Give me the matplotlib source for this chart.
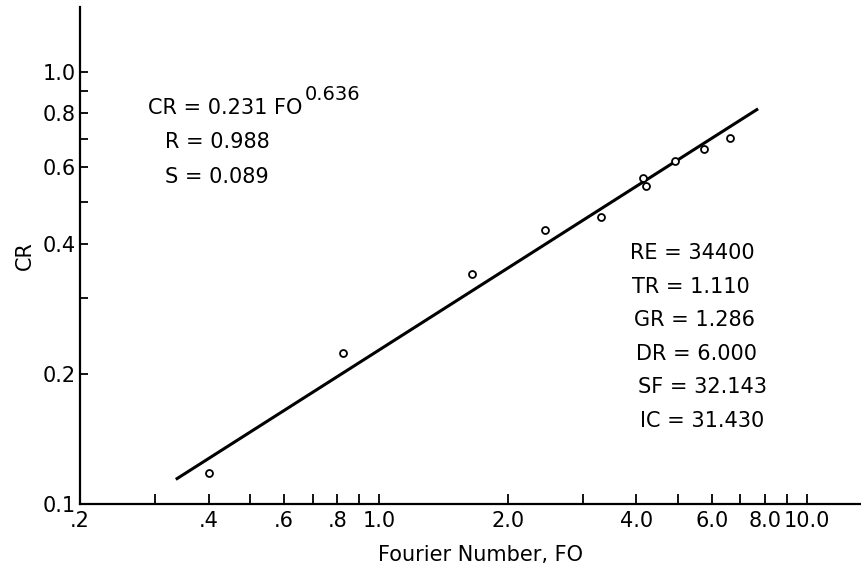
import matplotlib.pyplot as plt
import numpy as np

fo = [0.40, 0.826, 1.65, 2.44, 3.31, 4.14, 4.20, 4.93, 5.76, 6.62]
cr = [0.118, 0.224, 0.341, 0.431, 0.461, 0.566, 0.545, 0.620, 0.662, 0.702]

# ends of the fitted line
fit_fo = [0.335, 7.7]
fit_cr = [0.114, 0.82]

x_ticks = [0.2, 0.3, 0.4, 0.5, 0.6, 0.7, 0.8, 0.9, 1.0, 2.0, 3.0, 4.0, 5.0, 6.0, 7.0, 8.0, 9.0, 10.0]
x_labels = ['.2', '', '.4', '', '.6', '', '.8', '', '1.0', '2.0', '', '4.0', '', '6.0', '', '8.0', '', '10.0']
y_ticks = [0.1, 0.2, 0.3, 0.4, 0.5, 0.6, 0.7, 0.8, 0.9, 1.0]
y_labels = ['0.1', '0.2', '', '0.4', '', '0.6', '', '0.8', '', '1.0']

fit_lines = ['R = 0.988', 'S = 0.089']
params = ['RE = 34400', 'TR = 1.110', 'GR = 1.286', 'DR = 6.000', 'SF = 32.143', 'IC = 31.430']

W, H = 861, 573
fig = plt.figure(figsize=(W / 100, H / 100), dpi=100)
ax = fig.add_axes([80 / W, 69 / H, 781 / W, 497 / H])

ax.plot(fit_fo, fit_cr, color='black', linewidth=2.2, solid_capstyle='butt')
ax.plot(fo, cr, linestyle='none', marker='o', markersize=5, markerfacecolor='white',
        markeredgecolor='black', markeredgewidth=1.3)

ax.set_xscale('log')
ax.set_yscale('log')
ax.set_xlim(0.2, 13.4)
ax.set_ylim(0.1, 1.41)
ax.minorticks_off()
ax.set_xticks(x_ticks)
ax.set_xticklabels(x_labels)
ax.set_yticks(y_ticks)
ax.set_yticklabels(y_labels)
ax.tick_params(axis='x', direction='in', length=7, width=1.3, labelsize=15, pad=5)
ax.tick_params(axis='y', direction='in', length=6, width=1.3, labelsize=15, pad=3)

ax.spines['top'].set_visible(False)
ax.spines['right'].set_visible(False)
ax.spines['left'].set_linewidth(1.6)
ax.spines['bottom'].set_linewidth(1.6)

fig.text(480 / W, 1 - 555 / H, 'Fourier Number, FO', fontsize=15, ha='center', va='center')
fig.text(25 / W, 1 - 256 / H, 'CR', fontsize=15, rotation=90, ha='center', va='center')

# fit equation, exponent raised after FO
fig.text(148 / W, 1 - 108 / H, 'CR = 0.231 FO', fontsize=15, ha='left', va='center')
fig.text(305 / W, 1 - 94 / H, '0.636', fontsize=14, ha='left', va='center')
for i, s in enumerate(fit_lines):
    fig.text(165 / W, 1 - (142 + 35 * i) / H, s, fontsize=15, ha='left', va='center')

# run parameters
for i, s in enumerate(params):
    fig.text((630 + 2 * i) / W, 1 - (253 + 33.6 * i) / H, s, fontsize=15, ha='left', va='center')

plt.savefig('out.png', dpi=100)
